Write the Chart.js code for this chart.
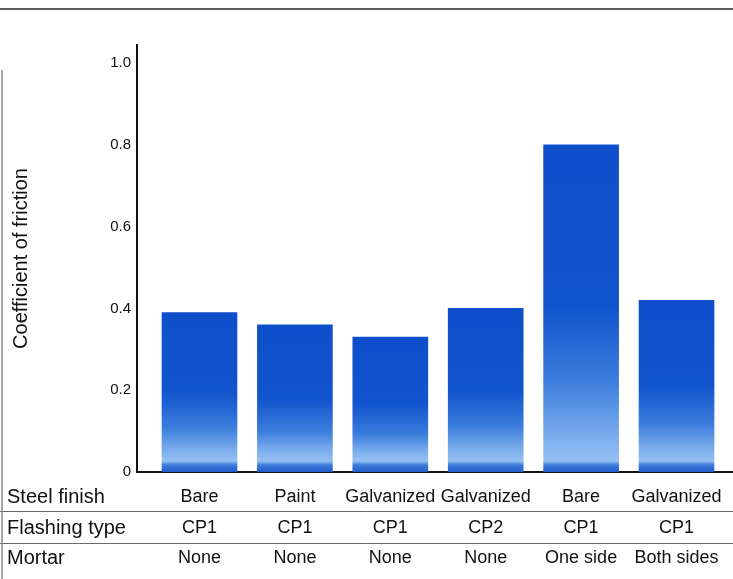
<!DOCTYPE html>
<html>
<head>
<meta charset="utf-8">
<script src="https://cdn.jsdelivr.net/npm/chart.js@4"></script>
<style>
  body { margin: 0; background: #fff; }
  #wrap { width: 733px; height: 579px; }
</style>
</head>
<body>
<div id="wrap"><canvas id="frictionChart" width="733" height="579"></canvas></div>
<script>
// data
const steelFinish = ["Bare", "Paint", "Galvanized", "Galvanized", "Bare", "Galvanized"];
const flashingType = ["CP1", "CP1", "CP1", "CP2", "CP1", "CP1"];
const mortar = ["None", "None", "None", "None", "One side", "Both sides"];
const friction = [0.39, 0.36, 0.33, 0.40, 0.80, 0.42];
const yTicks = [0, 0.2, 0.4, 0.6, 0.8, 1.0];
const rowNames = ["Steel finish", "Flashing type", "Mortar"];

const FONT = "'Liberation Sans', Arial, Helvetica, sans-serif";

// gradient per bar: deep blue on top, fading lighter near the base, dark strip at the bottom
function barGradient(context) {
  const chart = context.chart;
  if (!chart.chartArea) return "#1152cc";
  const y = chart.scales.y;
  const top = y.getPixelForValue(friction[context.dataIndex]);
  const bottom = y.getPixelForValue(0);
  const h = bottom - top;
  const s = 1 - 11 / h;
  const s2 = 1 - 7 / h;
  const g = chart.ctx.createLinearGradient(0, top, 0, bottom);
  g.addColorStop(0, "#0f4fcb");
  g.addColorStop(0.5, "#1254cd");
  g.addColorStop(0.72, "#3b7ddc");
  g.addColorStop(Math.max(0.75, s - 0.06), "#80b1ee");
  g.addColorStop(s, "#93bff2");
  g.addColorStop(s2, "#3f7bd8");
  g.addColorStop(1, "#1f5ccb");
  return g;
}

// table under the plot + scan borders
const tablePlugin = {
  id: "tablePlugin",
  afterDraw(chart) {
    const ctx = chart.ctx;
    const x = chart.scales.x;
    const rowY = [497, 528, 558];
    const rows = [steelFinish, flashingType, mortar];
    ctx.save();
    ctx.strokeStyle = "#6a6a6a";
    ctx.lineWidth = 1;
    [511.5, 543.5].forEach(ly => {
      ctx.beginPath();
      ctx.moveTo(0, ly);
      ctx.lineTo(733, ly);
      ctx.stroke();
    });
    ctx.strokeStyle = "#5a5a5a";
    ctx.lineWidth = 2;
    ctx.beginPath();
    ctx.moveTo(0, 9);
    ctx.lineTo(733, 9);
    ctx.stroke();
    ctx.strokeStyle = "#888";
    ctx.lineWidth = 1.5;
    ctx.beginPath();
    ctx.moveTo(2, 70);
    ctx.lineTo(2, 579);
    ctx.stroke();

    ctx.fillStyle = "#111";
    ctx.textBaseline = "middle";
    ctx.textAlign = "left";
    ctx.font = "20px " + FONT;
    rowNames.forEach((name, r) => ctx.fillText(name, 7, rowY[r]));
    ctx.textAlign = "center";
    ctx.font = "18px " + FONT;
    rows.forEach((row, r) => {
      row.forEach((label, i) => {
        ctx.fillText(label, x.getPixelForValue(i), rowY[r]);
      });
    });
    ctx.restore();
  }
};

const ctx = document.getElementById("frictionChart").getContext("2d");
const frictionChart = new Chart(ctx, {
  type: "bar",
  data: {
    datasets: [
      {
        data: friction.map((v, i) => ({ x: i, y: v })),
        backgroundColor: barGradient,
        barThickness: 75,
        borderWidth: 0,
      },
    ],
  },
  options: {
    responsive: false,
    animation: false,
    layout: {
      padding: { top: 45, bottom: 107, left: 5, right: 0 },
    },
    plugins: {
      legend: { display: false },
      tooltip: { enabled: false },
    },
    scales: {
      x: {
        type: "linear",
        offset: false,
        min: -0.655,
        max: 5.592,
        grid: { display: false, drawTicks: false },
        ticks: { display: false },
        border: { color: "#111", width: 2 },
      },
      y: {
        min: 0,
        max: 1.044,
        afterBuildTicks: (scale) => {
          scale.ticks = yTicks.map((v) => ({ value: v }));
        },
        afterFit: (scale) => {
          scale.width = 132;
        },
        grid: { display: false, drawTicks: false },
        border: { color: "#111", width: 2 },
        ticks: {
          padding: 6,
          color: "#111",
          font: { family: FONT, size: 15 },
          callback: (v) => (v === 0 ? "0" : v.toFixed(1)),
        },
        title: {
          display: true,
          text: "Coefficient of friction",
          color: "#111",
          font: { family: FONT, size: 20 },
          padding: { top: 4, bottom: 4 },
        },
      },
    },
  },
  plugins: [tablePlugin],
});
</script>
</body>
</html>
